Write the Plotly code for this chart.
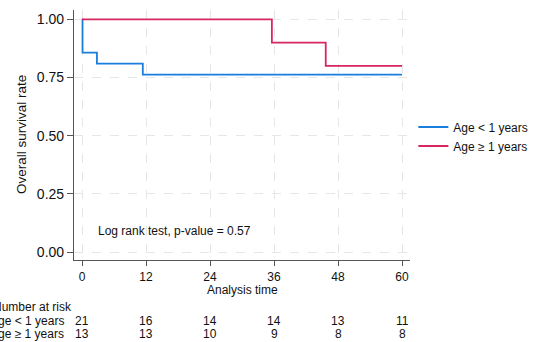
import plotly.graph_objects as go

# Kaplan-Meier step data (time in months, survival)
blue_time = [0, 0.1, 2.8, 11.4, 60]
blue_surv = [1.0, 0.857, 0.810, 0.762, 0.762]
red_time = [0, 35.6, 45.7, 60]
red_surv = [1.0, 0.90, 0.80, 0.80]

series_names = ["Age < 1 years", "Age \u2265 1 years"]
series_colors = ["#1a7fdc", "#d8265f"]

risk_times = [0, 12, 24, 36, 48, 60]
risk_row1 = [21, 16, 14, 14, 13, 11]
risk_row2 = [13, 13, 10, 9, 8, 8]

x_ticks = [0, 12, 24, 36, 48, 60]
y_ticks = [0, 0.25, 0.5, 0.75, 1.0]
y_ticklabels = ["0.00", "0.25", "0.50", "0.75", "1.00"]

FONT = "Liberation Sans, Arial, sans-serif"

fig = go.Figure()
fig.add_trace(go.Scatter(x=blue_time, y=blue_surv, mode="lines", line_shape="hv",
                         name=series_names[0], line=dict(color=series_colors[0], width=1.8)))
fig.add_trace(go.Scatter(x=red_time, y=red_surv, mode="lines", line_shape="hv",
                         name=series_names[1], line=dict(color=series_colors[1], width=1.8)))

W, H = 537, 342
ml, mr, mt, mb = 74, 127, 10, 82
ph = H - mt - mb
pw = W - ml - mr

def py(pix):
    return (H - mb - pix) / ph

def px(pix):
    return (pix - ml) / pw

anns = []
anns.append(dict(x=2.6, y=0.09, xref="x", yref="y", text="Log rank test, p-value = 0.57",
                 showarrow=False, xanchor="left", yanchor="middle", font=dict(size=12)))
anns.append(dict(x=px(21), y=py(135), xref="paper", yref="paper", text="Overall survival rate",
                 textangle=-90, showarrow=False, xanchor="center", yanchor="middle",
                 font=dict(size=13.5)))
anns.append(dict(x=(px(82) + px(402)) / 2, y=py(290), xref="paper", yref="paper",
                 text="Analysis time", showarrow=False, xanchor="center", yanchor="middle",
                 font=dict(size=12)))
anns.append(dict(x=px(-9), y=py(307), xref="paper", yref="paper", text="Number at risk",
                 showarrow=False, xanchor="left", yanchor="middle", font=dict(size=12)))
for lab, row, ypix in [(series_names[0], risk_row1, 321), (series_names[1], risk_row2, 334)]:
    anns.append(dict(x=px(66), y=py(ypix), xref="paper", yref="paper", text=lab,
                     showarrow=False, xanchor="right", yanchor="middle", font=dict(size=12)))
    for t, v in zip(risk_times, row):
        anns.append(dict(x=t, y=py(ypix), xref="x", yref="paper", text=str(v),
                         showarrow=False, xanchor="center", yanchor="middle", font=dict(size=12)))

fig.update_layout(
    width=W, height=H,
    margin=dict(l=ml, r=mr, t=mt, b=mb, autoexpand=False),
    paper_bgcolor="white", plot_bgcolor="white",
    font=dict(family=FONT, color="#111111", size=12),
    showlegend=True,
    legend=dict(x=1.01, y=0.59, xanchor="left", yanchor="top", font=dict(size=12),
                bgcolor="rgba(0,0,0,0)", tracegroupgap=0),
    annotations=anns,
    xaxis=dict(range=[-1.5, 61.5], tickvals=x_ticks, ticks="outside", ticklen=5,
               tickcolor="#555555", showline=True, linecolor="#555555", linewidth=1.2,
               showgrid=True, gridcolor="#e6e6e6", griddash="dash", gridwidth=1,
               zeroline=False, tickfont=dict(size=12), automargin=False),
    yaxis=dict(range=[-0.034, 1.04], tickvals=y_ticks, ticktext=y_ticklabels, ticks="outside",
               ticklen=6, tickcolor="#555555", showline=True, linecolor="#555555", linewidth=1.2,
               showgrid=True, gridcolor="#e6e6e6", griddash="dash", gridwidth=1,
               zeroline=False, tickfont=dict(size=14), automargin=False),
)

fig.write_html("out.html", config={"displayModeBar": False},
               post_script="document.body.style.margin='0';")
